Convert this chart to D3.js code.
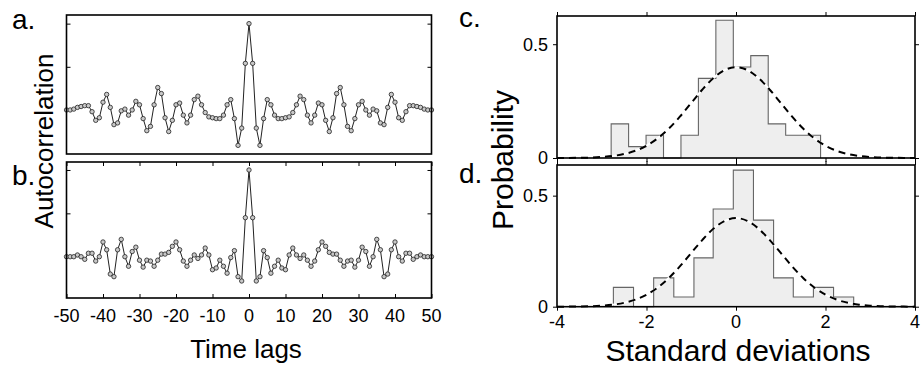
<!DOCTYPE html>
<html><head><meta charset="utf-8">
<script src="https://cdn.jsdelivr.net/npm/d3@7"></script>
<style>body{margin:0;background:#fff}svg{display:block;font-family:"Liberation Sans",Arial,Helvetica,sans-serif}</style>
</head><body>
<script>
// ---------- data ----------
const lags = d3.range(-50, 51);
const acfA = [0.00,0.00,0.01,0.03,0.04,0.05,0.05,-0.02,-0.12,-0.09,0.09,0.18,0.03,-0.17,-0.15,-0.01,0.01,-0.06,0.00,0.10,0.06,-0.10,-0.24,-0.19,0.06,0.26,0.19,-0.09,-0.25,-0.12,0.06,0.08,-0.06,-0.15,-0.06,0.12,0.16,0.06,-0.03,-0.08,-0.09,-0.10,-0.10,-0.06,0.06,0.12,-0.10,-0.41,-0.21,0.54,
  1.00,
  0.54,-0.21,-0.41,-0.10,0.12,0.06,-0.06,-0.10,-0.10,-0.09,-0.08,-0.03,0.06,0.16,0.12,-0.06,-0.15,-0.06,0.08,0.06,-0.12,-0.25,-0.09,0.19,0.26,0.06,-0.19,-0.24,-0.10,0.06,0.10,0.00,-0.06,0.01,-0.01,-0.15,-0.17,0.03,0.18,0.09,-0.09,-0.12,-0.02,0.05,0.05,0.04,0.03,0.01,0.00,0.00];
const acfB = [0.00,0.00,0.00,0.02,0.00,-0.03,0.04,0.04,-0.05,0.00,0.17,0.08,-0.20,-0.23,0.08,0.20,0.00,-0.11,0.06,0.11,-0.04,-0.12,-0.04,-0.05,-0.11,-0.04,0.03,0.03,0.05,0.12,0.17,0.08,-0.05,-0.11,-0.04,0.02,-0.02,0.02,0.10,0.02,-0.15,-0.13,-0.04,-0.11,-0.19,-0.01,0.07,-0.23,-0.28,0.45,
  1.00,
  0.45,-0.28,-0.23,0.07,-0.01,-0.19,-0.11,-0.04,-0.13,-0.15,0.02,0.10,0.02,-0.02,0.02,-0.04,-0.11,-0.05,0.08,0.17,0.12,0.05,0.03,0.03,-0.04,-0.11,-0.05,-0.04,-0.12,-0.04,0.11,0.06,-0.11,0.00,0.20,0.08,-0.23,-0.20,0.08,0.17,0.00,-0.05,0.04,0.04,-0.03,0.00,0.02,0.00,0.00,0.00];
const lagTicks = [-50,-40,-30,-20,-10,0,10,20,30,40,50];
const acfTicks = [0,0.5,1];

const edgesC = [-2.79,-2.40,-2.01,-1.62,-1.23,-0.84,-0.45,-0.06,0.33,0.72,1.11,1.50,1.89];
const densC  = [0.15,0.05,0.10,0.00,0.10,0.35,0.605,0.40,0.45,0.15,0.10,0.10];
const edgesD = [-2.74,-2.29,-1.84,-1.39,-0.94,-0.51,-0.06,0.39,0.84,1.28,1.73,2.18,2.63];
const densD  = [0.087,0.00,0.13,0.044,0.22,0.44,0.615,0.39,0.13,0.044,0.087,0.044];
const normX = [-4,-3.75,-3.5,-3.25,-3,-2.75,-2.5,-2.25,-2,-1.75,-1.5,-1.25,-1,-0.75,-0.5,-0.25,0,0.25,0.5,0.75,1,1.25,1.5,1.75,2,2.25,2.5,2.75,3,3.25,3.5,3.75,4];
const normY = [0.0001,0.0004,0.0009,0.0020,0.0044,0.0091,0.0175,0.0317,0.0540,0.0863,0.1295,0.1826,0.2420,0.3011,0.3521,0.3867,0.3989,0.3867,0.3521,0.3011,0.2420,0.1826,0.1295,0.0863,0.0540,0.0317,0.0175,0.0091,0.0044,0.0020,0.0009,0.0004,0.0001];
const sdTicks = [-4,-2,0,2,4];
const probTicks = [0,0.5];

// ---------- drawing ----------
const W = 922, H = 368;
const svg = d3.select("body").append("svg").attr("width", W).attr("height", H);

const xL = d3.scaleLinear().domain([-50, 50]).range([66.5, 431.5]);
const panelsL = [
  {vals: acfA, top: 15, bottom: 154, dom: [-0.51, 1.10], label: "a.", ly: 29, xt: false},
  {vals: acfB, top: 162, bottom: 298, dom: [-0.476, 1.092], label: "b.", ly: 185, xt: true}
];
panelsL.forEach(p => {
  const y = d3.scaleLinear().domain(p.dom).range([p.bottom, p.top]);
  const g = svg.append("g");
  g.append("g").attr("transform", `translate(${xL.range()[0]},0)`)
    .call(d3.axisRight(y).tickValues(acfTicks).tickSize(4).tickFormat(""))
    .call(a => a.select(".domain").remove());
  g.append("g").attr("transform", `translate(${xL.range()[1]},0)`)
    .call(d3.axisLeft(y).tickValues(acfTicks).tickSize(4).tickFormat(""))
    .call(a => a.select(".domain").remove());
  if (p.xt) {
    g.append("g").attr("transform", `translate(0,${p.top})`)
      .call(d3.axisBottom(xL).tickValues(lagTicks).tickSize(4).tickFormat(""))
      .call(a => a.select(".domain").remove());
    g.append("g").attr("transform", `translate(0,${p.bottom})`)
      .call(d3.axisTop(xL).tickValues(lagTicks).tickSize(4).tickFormat(""))
      .call(a => a.select(".domain").remove());
  }
  g.selectAll(".tick line").attr("stroke", "#000").attr("stroke-width", 1);
  const line = d3.line().x((d, i) => xL(lags[i])).y(d => y(d));
  g.append("path").datum(p.vals).attr("d", line).attr("fill", "none").attr("stroke", "#222").attr("stroke-width", 1);
  g.selectAll("circle").data(p.vals).join("circle")
    .attr("cx", (d, i) => xL(lags[i])).attr("cy", d => y(d)).attr("r", 2.2)
    .attr("fill", "#c8c8c8").attr("stroke", "#222").attr("stroke-width", 0.8);
  g.append("rect").attr("x", xL.range()[0]).attr("y", p.top)
    .attr("width", xL.range()[1] - xL.range()[0]).attr("height", p.bottom - p.top)
    .attr("fill", "none").attr("stroke", "#000").attr("stroke-width", 1.6);
  svg.append("text").attr("x", 12).attr("y", p.ly).attr("font-size", 28).text(p.label);
});
svg.append("g").selectAll("text").data(lagTicks).join("text")
  .attr("x", d => xL(d)).attr("y", 322).attr("text-anchor", "middle").attr("font-size", 18)
  .text(d => d);
svg.append("text").attr("x", 246).attr("y", 358).attr("text-anchor", "middle").attr("font-size", 26).text("Time lags");
svg.append("text").attr("transform", "translate(53,141) rotate(-90)").attr("text-anchor", "middle")
  .attr("font-size", 26).text("Autocorrelation");

// histograms
const xR = d3.scaleLinear().domain([-4, 4]).range([557, 915]);
const panelsR = [
  {edges: edgesC, dens: densC, top: 16, bottom: 158, ymax: 0.624, label: "c.", ly: 27},
  {edges: edgesD, dens: densD, top: 165, bottom: 306.7, ymax: 0.638, label: "d.", ly: 183}
];
panelsR.forEach(p => {
  const y = d3.scaleLinear().domain([0, p.ymax]).range([p.bottom, p.top]);
  const g = svg.append("g");
  const n = p.dens.length;
  const pts = [[p.edges[0], 0]];
  p.dens.forEach((d, i) => pts.push([p.edges[i], d]));
  pts.push([p.edges[n], p.dens[n - 1]]);
  pts.push([p.edges[n], 0]);
  const step = d3.line().x(d => xR(d[0])).y(d => y(d[1])).curve(d3.curveStepAfter);
  g.append("path").attr("d", step(pts) + "Z").attr("fill", "#eeeeee").attr("stroke", "none");
  g.append("path").attr("d", step(pts)).attr("fill", "none").attr("stroke", "#666").attr("stroke-width", 1.1);
  const curve = d3.line().x((d, i) => xR(normX[i])).y(d => y(d)).curve(d3.curveMonotoneX);
  g.append("path").attr("d", curve(normY)).attr("fill", "none").attr("stroke", "#fff").attr("stroke-width", 2);
  g.append("path").attr("d", curve(normY)).attr("fill", "none").attr("stroke", "#000").attr("stroke-width", 2)
    .attr("stroke-dasharray", "7,5");
  g.append("g").attr("transform", `translate(${xR.range()[0]},0)`)
    .call(d3.axisLeft(y).tickValues(probTicks).tickSize(4).tickFormat(""))
    .call(a => a.select(".domain").remove());
  g.append("g").attr("transform", `translate(${xR.range()[1]},0)`)
    .call(d3.axisRight(y).tickValues(probTicks).tickSize(4).tickFormat(""))
    .call(a => a.select(".domain").remove());
  g.append("g").attr("transform", `translate(0,${p.top})`)
    .call(d3.axisTop(xR).tickValues(sdTicks).tickSize(4).tickFormat(""))
    .call(a => a.select(".domain").remove());
  g.append("g").attr("transform", `translate(0,${p.bottom})`)
    .call(d3.axisBottom(xR).tickValues(sdTicks).tickSize(4).tickFormat(""))
    .call(a => a.select(".domain").remove());
  g.selectAll(".tick line").attr("stroke", "#000").attr("stroke-width", 1);
  g.append("rect").attr("x", xR.range()[0]).attr("y", p.top)
    .attr("width", xR.range()[1] - xR.range()[0]).attr("height", p.bottom - p.top)
    .attr("fill", "none").attr("stroke", "#000").attr("stroke-width", 1.6);
  g.selectAll("text.yl").data(probTicks).join("text").attr("class", "yl")
    .attr("x", 548).attr("y", d => y(d)).attr("dy", "0.35em").attr("text-anchor", "end").attr("font-size", 18)
    .text(d => d);
  svg.append("text").attr("x", 459).attr("y", p.ly).attr("font-size", 28).text(p.label);
});
svg.append("g").selectAll("text").data(sdTicks).join("text")
  .attr("x", d => xR(d)).attr("y", 328).attr("text-anchor", "middle").attr("font-size", 18)
  .text(d => d);
svg.append("text").attr("x", 738).attr("y", 361).attr("text-anchor", "middle").attr("font-size", 30).text("Standard deviations");
svg.append("text").attr("transform", "translate(513,160) rotate(-90)").attr("text-anchor", "middle")
  .attr("font-size", 30).text("Probability");
</script>
</body></html>
